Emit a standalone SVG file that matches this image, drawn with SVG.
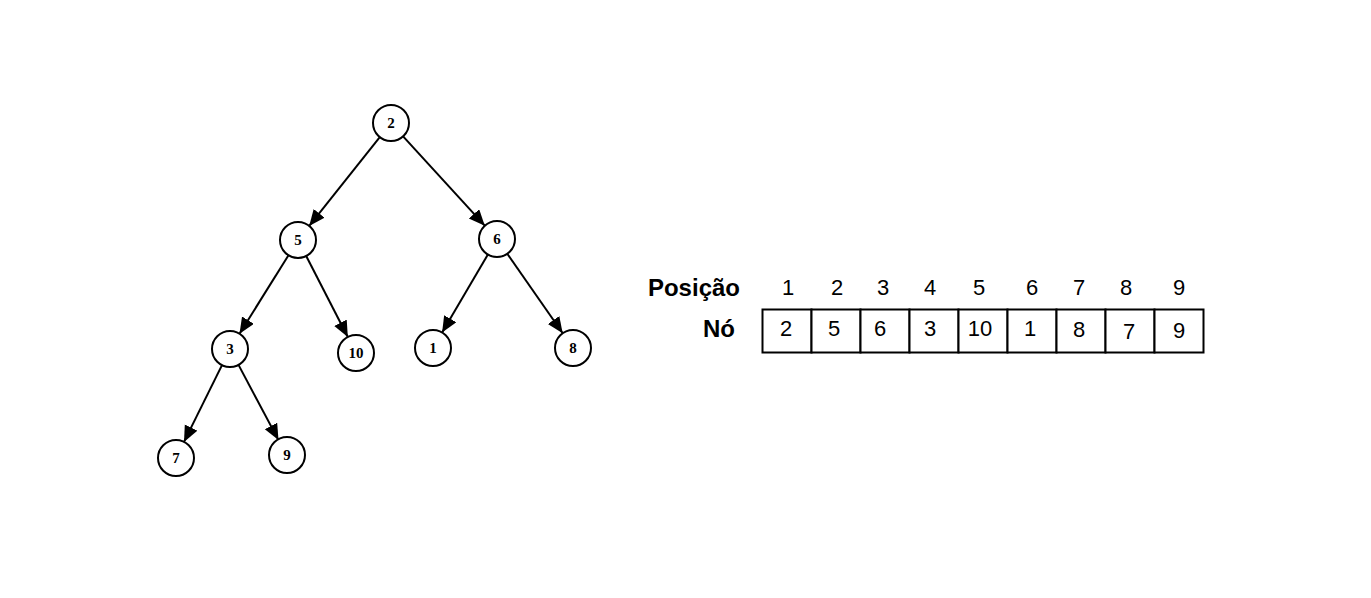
<svg xmlns="http://www.w3.org/2000/svg" width="1371" height="598" viewBox="0 0 1371 598">
<defs>
<marker id="arr" markerUnits="userSpaceOnUse" markerWidth="17" markerHeight="15" refX="16" refY="7" orient="auto">
<path d="M0,0 L16,7 L0,14 z" fill="#000"/>
</marker>
<style>
.node circle{fill:#fff;stroke:#000;stroke-width:2}
.node text{font-family:"Liberation Serif",serif;font-weight:bold;font-size:15px;text-anchor:middle;fill:#000}
.edges line{stroke:#000;stroke-width:2;marker-end:url(#arr)}
.lbl{font-family:"Liberation Sans",Arial,sans-serif;font-size:22px;fill:#000;text-anchor:middle}
.hdr{font-family:"Liberation Sans",Arial,sans-serif;font-size:24px;font-weight:bold;fill:#000;text-anchor:end}
.cell{fill:#fff;stroke:#000;stroke-width:2}
</style>
</defs>
<rect width="1371" height="598" fill="#fff"/>
<g id="connectors" class="edges">
<line x1="379.8" y1="137.1" x2="309.2" y2="225.9"/>
<line x1="403.1" y1="136.3" x2="484.8" y2="225.7"/>
<line x1="288.5" y1="255.3" x2="239.5" y2="333.7"/>
<line x1="306.2" y1="256.0" x2="347.8" y2="337.0"/>
<line x1="487.9" y1="254.5" x2="442.1" y2="332.5"/>
<line x1="507.3" y1="253.8" x2="562.7" y2="333.2"/>
<line x1="222.0" y1="365.1" x2="184.0" y2="441.9"/>
<line x1="238.5" y1="364.9" x2="278.5" y2="440.1"/>
</g>
<g id="n2" class="node"><circle cx="391" cy="123" r="18"/><text x="391" y="128">2</text></g>
<g id="n5" class="node"><circle cx="298" cy="240" r="18"/><text x="298" y="245">5</text></g>
<g id="n6" class="node"><circle cx="497" cy="239" r="18"/><text x="497" y="244">6</text></g>
<g id="n3" class="node"><circle cx="230" cy="349" r="18"/><text x="230" y="354">3</text></g>
<g id="n10" class="node"><circle cx="356" cy="353" r="18"/><text x="356" y="358">10</text></g>
<g id="n1" class="node"><circle cx="433" cy="348" r="18"/><text x="433" y="353">1</text></g>
<g id="n8" class="node"><circle cx="573" cy="348" r="18"/><text x="573" y="353">8</text></g>
<g id="n7" class="node"><circle cx="176" cy="458" r="18"/><text x="176" y="463">7</text></g>
<g id="n9" class="node"><circle cx="287" cy="455" r="18"/><text x="287" y="460">9</text></g>
<g id="table">
<text class="hdr" x="740" y="296">Posição</text>
<text class="hdr" x="735" y="337">Nó</text>
<text class="lbl" x="788" y="295">1</text>
<text class="lbl" x="837" y="295">2</text>
<text class="lbl" x="883" y="295">3</text>
<text class="lbl" x="930" y="295">4</text>
<text class="lbl" x="979" y="295">5</text>
<text class="lbl" x="1032" y="295">6</text>
<text class="lbl" x="1079" y="295">7</text>
<text class="lbl" x="1126" y="295">8</text>
<text class="lbl" x="1179" y="295">9</text>
<rect class="cell" x="762.5" y="309.5" width="49" height="43"/>
<rect class="cell" x="811.5" y="309.5" width="49" height="43"/>
<rect class="cell" x="860.5" y="309.5" width="49" height="43"/>
<rect class="cell" x="909.5" y="309.5" width="49" height="43"/>
<rect class="cell" x="958.5" y="309.5" width="49" height="43"/>
<rect class="cell" x="1007.5" y="309.5" width="49" height="43"/>
<rect class="cell" x="1056.5" y="309.5" width="49" height="43"/>
<rect class="cell" x="1105.5" y="309.5" width="49" height="43"/>
<rect class="cell" x="1154.5" y="309.5" width="49" height="43"/>
<text class="lbl" x="786" y="336">2</text>
<text class="lbl" x="834" y="336">5</text>
<text class="lbl" x="880" y="336">6</text>
<text class="lbl" x="930" y="336">3</text>
<text class="lbl" x="980" y="336">10</text>
<text class="lbl" x="1030" y="336">1</text>
<text class="lbl" x="1079" y="337">8</text>
<text class="lbl" x="1129" y="339">7</text>
<text class="lbl" x="1179" y="338">9</text>
</g>
</svg>
